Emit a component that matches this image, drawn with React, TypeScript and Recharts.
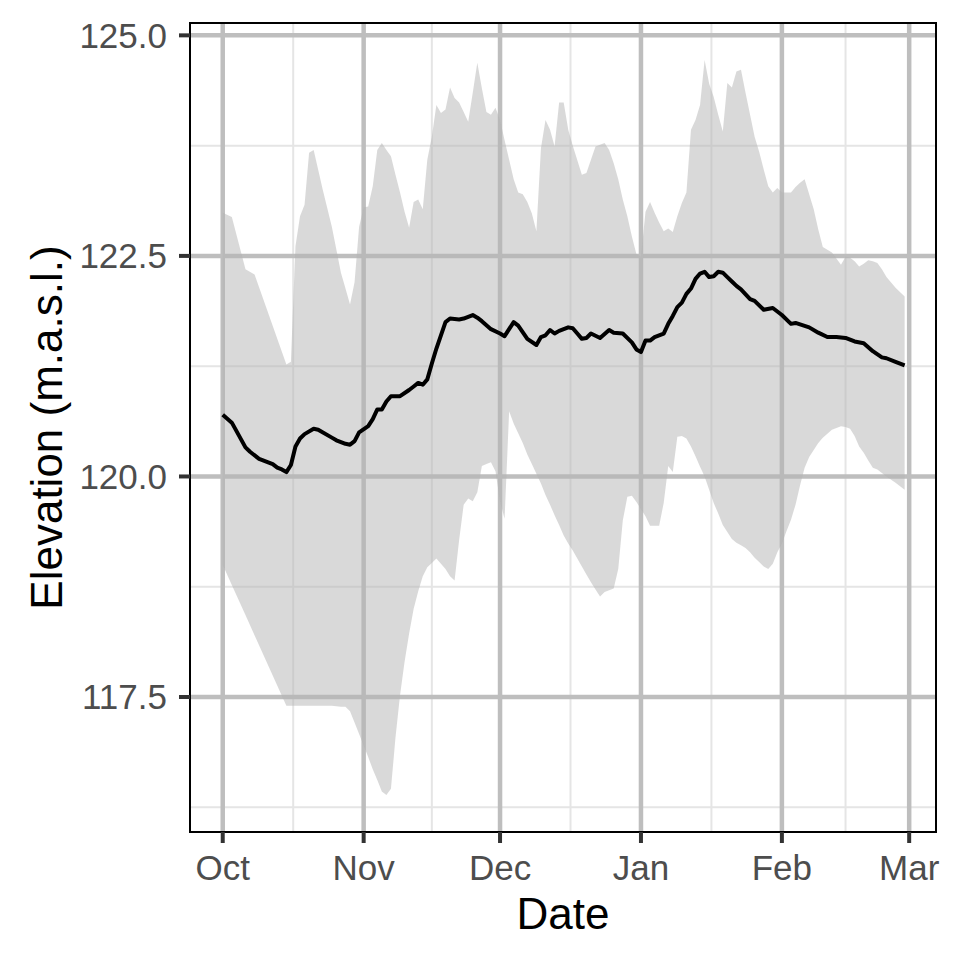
import React from 'react';
import { ComposedChart, Area, Line, XAxis, YAxis, CartesianGrid, ReferenceArea } from 'recharts';

// days counted from 1 Oct
const ribbonDay = [
  0, 2, 5, 7, 14, 15, 16, 17, 18, 19, 20, 22, 24, 26, 27, 28, 29, 30, 31, 32,
  33, 34, 35, 36, 37, 38, 39, 40, 41, 42, 43, 44, 45, 46, 47, 48, 49, 50, 51, 52,
  53, 54, 55, 56, 57, 58, 59, 60, 61, 62, 63, 64, 65, 66, 67, 68, 69, 70, 71, 72,
  73, 74, 75, 76, 77, 79, 80, 81, 82, 83, 84, 85, 86, 87, 88, 89, 90, 91, 92, 93,
  94, 95, 96, 97, 98, 99, 100, 101, 102, 103, 104, 105, 106, 107, 108, 109, 110, 111, 112, 113,
  114, 115, 116, 117, 118, 119, 120, 121, 122, 123, 124, 125, 126, 127, 128, 129, 130, 131, 132, 134,
  136, 137, 138, 139, 140, 141, 142, 143, 144, 145, 146, 148, 150,
];
const ribbonLow = [
  119.0, 118.77, 118.43, 118.2, 117.4, 117.4, 117.4, 117.4, 117.4, 117.4, 117.4, 117.4, 117.4, 117.39, 117.39, 117.34, 117.21, 117.08, 116.95, 116.82,
  116.68, 116.56, 116.43, 116.39, 116.46, 117.04, 117.52, 117.9, 118.22, 118.5, 118.7, 118.87, 118.97, 119.02, 119.07, 119.01, 118.95, 118.87, 118.82, 119.28,
  119.68, 119.75, 119.72, 119.82, 120.12, 120.14, 120.16, 120.06, 119.72, 119.52, 120.74, 120.6, 120.49, 120.38, 120.25, 120.14, 120.03, 119.92, 119.79, 119.68,
  119.56, 119.45, 119.33, 119.24, 119.16, 118.98, 118.89, 118.8, 118.72, 118.64, 118.69, 118.71, 118.73, 118.95, 119.5, 119.77, 119.78, 119.71, 119.63, 119.55,
  119.44, 119.44, 119.44, 119.7, 120.12, 120.05, 120.45, 120.46, 120.43, 120.34, 120.23, 120.11, 120.0, 119.85, 119.7, 119.58, 119.45, 119.37, 119.29, 119.25,
  119.22, 119.19, 119.14, 119.08, 119.03, 118.98, 118.95, 119.01, 119.14, 119.24, 119.38, 119.51, 119.68, 119.9, 120.1, 120.22, 120.3, 120.38, 120.44, 120.53,
  120.57, 120.56, 120.54, 120.46, 120.34, 120.27, 120.18, 120.1, 120.08, 120.04, 120.0, 119.93, 119.85,
];
const ribbonHigh = [
  122.99, 122.94, 122.35, 122.29, 121.27, 121.3, 122.61, 122.95, 123.08, 123.67, 123.7, 123.25, 122.83, 122.31, 122.13, 121.95, 122.2, 122.83, 123.05, 123.06,
  123.29, 123.7, 123.78, 123.7, 123.63, 123.42, 123.22, 123.0, 122.82, 123.11, 123.14, 123.03, 123.59, 123.85, 124.21, 124.12, 124.16, 124.41, 124.29, 124.24,
  124.13, 124.02, 124.35, 124.69, 124.4, 124.13, 124.1, 124.18, 124.04, 123.81, 123.59, 123.37, 123.22, 123.2, 123.11, 122.98, 122.78, 123.72, 124.04, 123.93,
  123.74, 124.24, 124.24, 123.93, 123.75, 123.42, 123.44, 123.59, 123.74, 123.76, 123.78, 123.7, 123.55, 123.37, 123.14, 122.95, 122.72, 122.52, 122.49, 123.0,
  123.11, 122.99, 122.88, 122.78, 122.81, 122.77, 122.95, 123.1, 123.22, 123.93, 124.04, 124.21, 124.72, 124.45, 124.3, 124.1, 123.91, 124.46, 124.41, 124.59,
  124.61, 124.35, 124.1, 123.85, 123.68, 123.48, 123.29, 123.22, 123.27, 123.22, 123.22, 123.22, 123.28, 123.33, 123.37, 123.2, 123.03, 122.8, 122.6, 122.54,
  122.4, 122.49, 122.48, 122.44, 122.38, 122.41, 122.45, 122.44, 122.42, 122.35, 122.26, 122.14, 122.04,
];

const meanDay = [
  0, 2, 5, 6, 8, 10, 11, 12, 13, 14, 15, 16, 17, 18, 20, 21, 24, 25, 27, 28,
  29, 30, 32, 33, 34, 35, 36, 37, 39, 41, 42, 43, 44, 45, 46, 47, 48, 49, 50, 52,
  53, 55, 56, 57, 59, 61, 62, 64, 65, 67, 69, 70, 71, 72, 73, 74, 76, 77, 78, 79,
  80, 81, 83, 85, 86, 88, 90, 91, 92, 93, 94, 95, 97, 98, 99, 100, 101, 102, 103, 104,
  105, 106, 107, 108, 109, 110, 111, 112, 113, 114, 116, 117, 119, 121, 123, 125, 126, 129, 131, 133,
  135, 137, 139, 141, 143, 145, 146, 148, 150,
];
const meanValue = [
  120.7, 120.61, 120.33, 120.28, 120.2, 120.16, 120.14, 120.1, 120.08, 120.05, 120.13, 120.34, 120.43, 120.48, 120.54, 120.53, 120.44, 120.41, 120.37, 120.36,
  120.4, 120.5, 120.57, 120.65, 120.76, 120.76, 120.85, 120.91, 120.91, 120.98, 121.02, 121.06, 121.04, 121.1, 121.28, 121.45, 121.6, 121.75, 121.79, 121.78,
  121.79, 121.83, 121.8, 121.76, 121.67, 121.62, 121.59, 121.75, 121.71, 121.56, 121.49, 121.58, 121.6, 121.66, 121.62, 121.65, 121.69, 121.68, 121.62, 121.56,
  121.57, 121.62, 121.57, 121.66, 121.63, 121.62, 121.52, 121.44, 121.41, 121.54, 121.54, 121.58, 121.62, 121.73, 121.82, 121.92, 121.97, 122.07, 122.13, 122.24,
  122.3, 122.32, 122.26, 122.27, 122.32, 122.31, 122.26, 122.21, 122.16, 122.12, 122.01, 121.99, 121.89, 121.91, 121.83, 121.73, 121.74, 121.69, 121.63, 121.58,
  121.58, 121.57, 121.53, 121.51, 121.42, 121.35, 121.34, 121.3, 121.26,
];

const monthTicks = [0, 31, 61, 92, 123, 151];
const monthLabels = ['Oct', 'Nov', 'Dec', 'Jan', 'Feb', 'Mar'];
const minorDayTicks = [15.5, 46, 76.5, 107.5, 137];
const elevTicks = [117.5, 120, 122.5, 125];
const minorElevTicks = [116.25, 118.75, 121.25, 123.75];

const xDomain = [-7.2, 156.9];
const yDomain = [115.97, 125.14];

const ribbonRows = ribbonDay.map((d, i) => ({ day: d, band: [ribbonLow[i], ribbonHigh[i]] }));
const meanRows = meanDay.map((d, i) => ({ day: d, mean: meanValue[i] }));

const FONT = '"Liberation Sans", Arial, Helvetica, sans-serif';

const YTitle = ({ viewBox }: any) => {
  const cy = viewBox.y + viewBox.height / 2;
  return (
    <text x={62} y={cy} transform={`rotate(-90, 62, ${cy})`} textAnchor="middle" fontSize={44} fill="#000" fontFamily={FONT}>
      Elevation (m.a.s.l.)
    </text>
  );
};

const XTitle = ({ viewBox }: any) => {
  const cx = viewBox.x + viewBox.width / 2;
  return (
    <text x={cx} y={929} textAnchor="middle" fontSize={44} fill="#000" fontFamily={FONT}>
      Date
    </text>
  );
};

export default function App() {
  return (
    <div style={{ position: 'absolute', left: 0, top: 0, width: 960, height: 960, background: '#fff' }}>
      <ComposedChart
        width={960}
        height={960}
        data={ribbonRows}
        margin={{ top: 23, right: 24, bottom: 0, left: 0 }}
        style={{ fontFamily: FONT }}
      >
        <CartesianGrid
          horizontalValues={minorElevTicks}
          verticalValues={minorDayTicks}
          stroke="#E5E5E5"
          strokeWidth={2}
        />
        <CartesianGrid
          horizontalValues={elevTicks}
          verticalValues={monthTicks}
          stroke="#BEBEBE"
          strokeWidth={4.5}
        />
        <XAxis
          dataKey="day"
          type="number"
          domain={xDomain}
          allowDataOverflow
          ticks={monthTicks}
          tickFormatter={(v: number) => monthLabels[monthTicks.indexOf(v)]}
          height={128}
          axisLine={false}
          tickSize={11}
          tickMargin={12}
          tickLine={{ stroke: '#333', strokeWidth: 4 }}
          tick={{ fill: '#4D4D4D', fontSize: 35 }}
          label={<XTitle />}
        />
        <YAxis
          type="number"
          domain={yDomain}
          allowDataOverflow
          ticks={elevTicks}
          tickFormatter={(v: number) => v.toFixed(1)}
          width={190}
          axisLine={false}
          tickSize={11}
          tickMargin={12}
          tickLine={{ stroke: '#333', strokeWidth: 4 }}
          tick={{ fill: '#4D4D4D', fontSize: 35 }}
          label={<YTitle />}
        />
        <Area
          dataKey="band"
          type="linear"
          stroke="none"
          fill="#B3B3B3"
          fillOpacity={0.5}
          isAnimationActive={false}
          activeDot={false}
        />
        <Line
          data={meanRows}
          dataKey="mean"
          type="linear"
          stroke="#000"
          strokeWidth={4}
          strokeLinejoin="round"
          dot={false}
          activeDot={false}
          isAnimationActive={false}
        />
        <ReferenceArea
          x1={xDomain[0]}
          x2={xDomain[1]}
          y1={yDomain[0]}
          y2={yDomain[1]}
          fill="none"
          stroke="#000"
          strokeWidth={2}
          ifOverflow="visible"
        />
      </ComposedChart>
    </div>
  );
}
